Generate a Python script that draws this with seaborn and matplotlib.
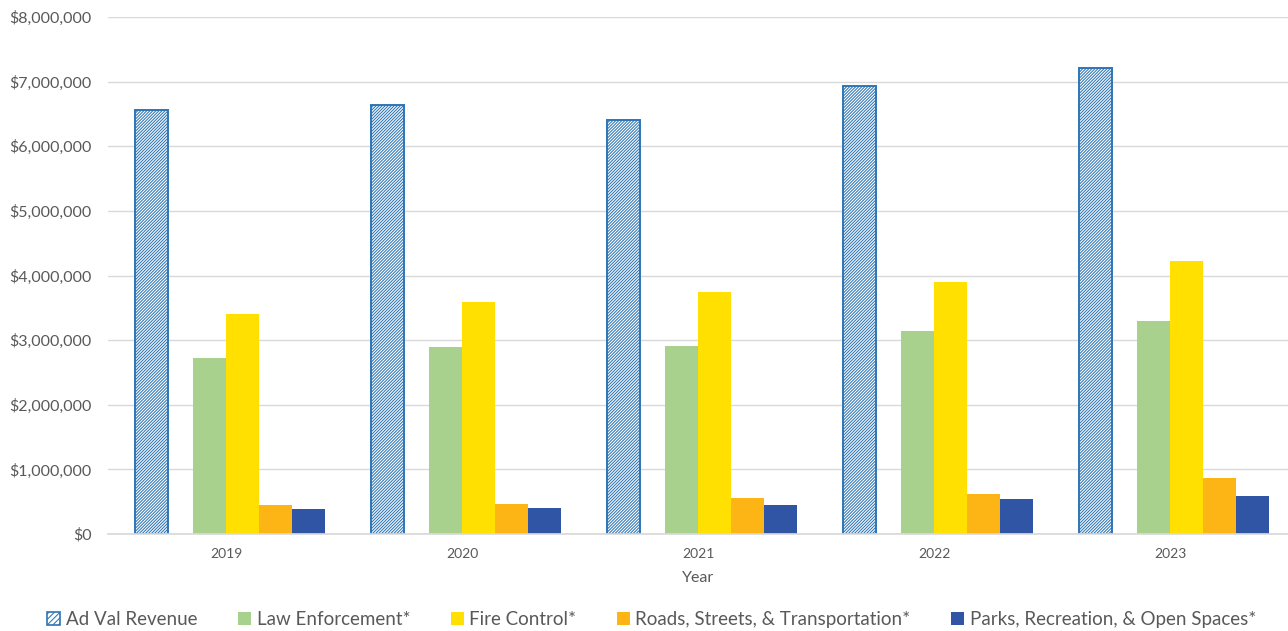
import numpy as np
import pandas as pd
import matplotlib
matplotlib.use("Agg")
import matplotlib.pyplot as plt
import matplotlib.ticker as mticker
from matplotlib.patches import Patch
import seaborn as sns


# ==========================================
# DATA
# ==========================================

years = ["2019", "2020", "2021", "2022", "2023"]

ad_val = [6560000, 6640000, 6410000, 6930000, 7210000]
law_enforcement = [2720000, 2890000, 2910000, 3140000, 3300000]
fire_control = [3400000, 3590000, 3750000, 3900000, 4230000]
roads = [450000, 460000, 560000, 620000, 870000]
parks = [390000, 400000, 450000, 540000, 590000]

series_names = [
    "Ad Val Revenue",
    "Law Enforcement*",
    "Fire Control*",
    "Roads, Streets, & Transportation*",
    "Parks, Recreation, & Open Spaces*",
]

colors = ["#2E75B6", "#A9D18E", "#FFE000", "#FDB515", "#2F55A4"]


# ==========================================
# LONG TABLE
# ==========================================

rows = []
for name, vals in zip(series_names, [ad_val, law_enforcement, fire_control, roads, parks]):
    for y, v in zip(years, vals):
        rows.append({"Year": y, "Series": name, "Value": v})
df = pd.DataFrame(rows)

# two empty slots in front, like the excel layout
slot_order = ["gap0", "gap1"] + series_names[1:]


# ==========================================
# FIGURE
# ==========================================

sns.set_theme(style="white")
plt.rcParams["font.family"] = ["Lato", "DejaVu Sans"]
plt.rcParams["hatch.linewidth"] = 0.75

fig = plt.figure(figsize=(12.88, 6.31), dpi=100)
ax = fig.add_axes([0.0839, 0.1537, 0.9161, 0.8193])

slot_w = 33 / 236

# four coloured series in the primary slots
palette = {"gap0": "white", "gap1": "white"}
for n, c in zip(series_names[1:], colors[1:]):
    palette[n] = c

sns.barplot(
    data=df[df["Series"] != series_names[0]],
    x="Year",
    y="Value",
    hue="Series",
    hue_order=slot_order,
    order=years,
    palette=palette,
    width=slot_w * 6,
    gap=0,
    dodge=True,
    saturation=1,
    legend=False,
    errorbar=None,
    ax=ax,
)

# ad val revenue drawn separately with the hatch
n_before = len(ax.patches)
sns.barplot(
    data=df[df["Series"] == series_names[0]],
    x="Year",
    y="Value",
    order=years,
    color="white",
    width=slot_w,
    saturation=1,
    errorbar=None,
    ax=ax,
)
for p in ax.patches[n_before:]:
    p.set_x(p.get_x() - 74.5 / 236)
    p.set_hatch("///////////")
    p.set_edgecolor(colors[0])
    p.set_linewidth(1.4)
    p.set_facecolor("white")

for p in ax.patches[:n_before]:
    p.set_edgecolor("none")


# ==========================================
# AXES STYLE
# ==========================================

ax.set_xlim(-0.5, 4.5)
ax.set_ylim(0, 8000000)
ax.yaxis.set_major_locator(mticker.MultipleLocator(1000000))
ax.yaxis.set_major_formatter(mticker.FuncFormatter(lambda v, _: "${:,.0f}".format(v)))
ax.grid(axis="y", color="#D9D9D9", linewidth=1)
ax.set_axisbelow(True)

for s in ["top", "right", "left"]:
    ax.spines[s].set_visible(False)
ax.spines["bottom"].set_color("#D9D9D9")
ax.tick_params(axis="both", length=0, colors="#595959")
ax.tick_params(axis="y", labelsize=11.5, pad=12)
ax.tick_params(axis="x", labelsize=10, pad=10)

ax.set_xlabel("Year", fontsize=11.5, color="#595959", labelpad=8)
ax.set_ylabel("")


# ==========================================
# LEGEND
# ==========================================

handles = [Patch(facecolor="white", edgecolor=colors[0], hatch="//////", linewidth=1.2)]
handles += [Patch(facecolor=c, edgecolor="none") for c in colors[1:]]

fig.legend(
    handles,
    series_names,
    loc="center",
    bbox_to_anchor=(0.506, 0.018),
    ncol=5,
    frameon=False,
    fontsize=13.5,
    labelcolor="#595959",
    handlelength=0.7,
    handleheight=0.7,
    handletextpad=0.3,
    columnspacing=2.15,
)

fig.savefig("out.png", dpi=100)
